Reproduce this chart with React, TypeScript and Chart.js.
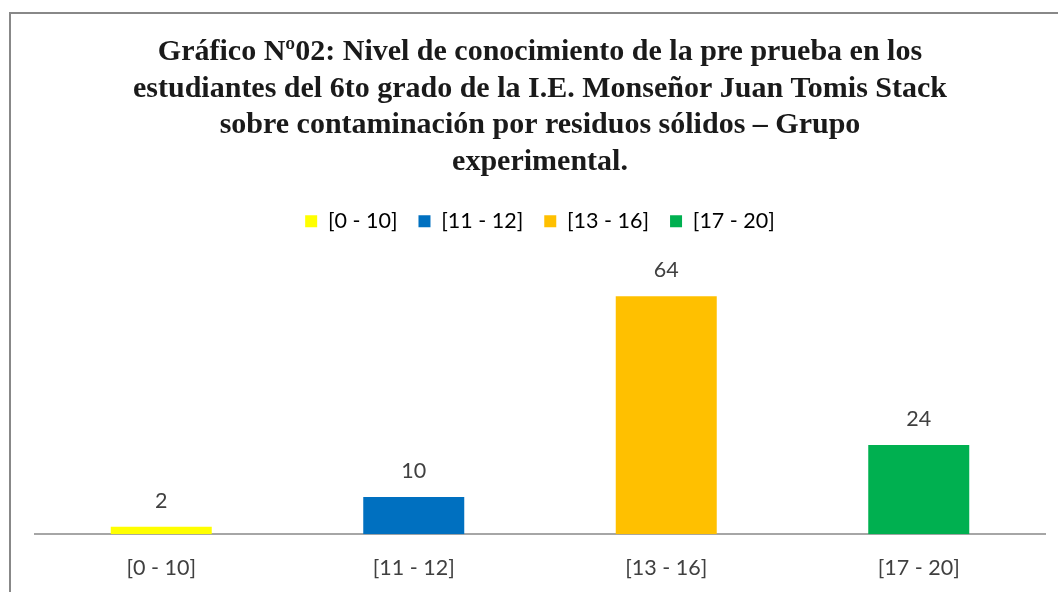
import React, { useEffect, useRef } from "react";
import { Chart, registerables } from "chart.js";

Chart.register(...registerables);

const TITLE_LINES = [
  "Gráfico Nº02: Nivel de conocimiento de la pre prueba en los",
  "estudiantes del 6to grado de la I.E. Monseñor Juan Tomis Stack",
  "sobre contaminación por residuos sólidos – Grupo",
  "experimental.",
];
const CATEGORIES = ["[0 - 10]", "[11 - 12]", "[13 - 16]", "[17 - 20]"];
const VALUES = [2, 10, 64, 24];
const COLORS = ["#FFFF00", "#0070C0", "#FFC000", "#00B050"];
const Y_MAX = 78.6;

const LABEL_FONT = "Lato";
const TEXT_COLOR = "#404040";

const dataLabelPlugin = {
  id: "dataLabels",
  afterDatasetsDraw(chart: any) {
    const ctx = chart.ctx;
    const meta = chart.getDatasetMeta(0);
    ctx.save();
    ctx.font = `21.5px ${LABEL_FONT}`;
    ctx.fillStyle = TEXT_COLOR;
    ctx.textAlign = "center";
    ctx.textBaseline = "middle";
    meta.data.forEach((el: any, i: number) => {
      ctx.fillText(String(VALUES[i]), el.x, el.y - 26);
    });
    ctx.restore();
  },
};

export default function App() {
  const ref = useRef<HTMLCanvasElement>(null);
  useEffect(() => {
    document.body.style.margin = "0";
    const chart = new Chart(ref.current!, {
      type: "bar",
      data: {
        labels: CATEGORIES,
        datasets: [
          {
            data: VALUES,
            backgroundColor: COLORS,
            borderWidth: 0,
            barPercentage: 0.4,
            categoryPercentage: 1,
          },
        ],
      },
      options: {
        responsive: false,
        animation: false,
        layout: { padding: { left: 35, right: 13, top: 14, bottom: -10 } },
        plugins: {
          tooltip: { enabled: false },
          title: {
            display: true,
            text: TITLE_LINES,
            color: "#1a1a1a",
            font: { family: "Liberation Serif", size: 30, weight: "bold", lineHeight: 1.22 },
            padding: { top: 20, bottom: 9 },
          },
          legend: {
            display: true,
            labels: {
              boxWidth: 12,
              boxHeight: 12,
              padding: 21,
              color: TEXT_COLOR,
              font: { family: LABEL_FONT, size: 21.5 },
              generateLabels: () =>
                CATEGORIES.map((c, i) => ({
                  text: c,
                  fillStyle: COLORS[i],
                  strokeStyle: COLORS[i],
                  lineWidth: 0,
                  hidden: false,
                  index: i,
                  datasetIndex: 0,
                })),
            },
            onClick: () => {},
          },
        },
        scales: {
          x: {
            grid: { display: false, drawTicks: false },
            border: { display: true, color: "#a6a6a6", width: 2 },
            ticks: { color: TEXT_COLOR, font: { family: LABEL_FONT, size: 21.5 }, padding: 21 },
          },
          y: {
            display: false,
            min: 0,
            max: Y_MAX,
          },
        },
      },
      plugins: [dataLabelPlugin],
    });
    return () => chart.destroy();
  }, []);

  return (
    <div style={{ position: "relative", width: 1058, height: 592, overflow: "hidden", background: "#fff" }}>
      <div
        style={{
          position: "absolute",
          left: 9,
          top: 12,
          width: 1200,
          height: 800,
          borderLeft: "2px solid #888",
          borderTop: "2px solid #888",
        }}
      />
      <canvas ref={ref} width={1058} height={592} style={{ position: "absolute", left: 0, top: 0 }} />
    </div>
  );
}
